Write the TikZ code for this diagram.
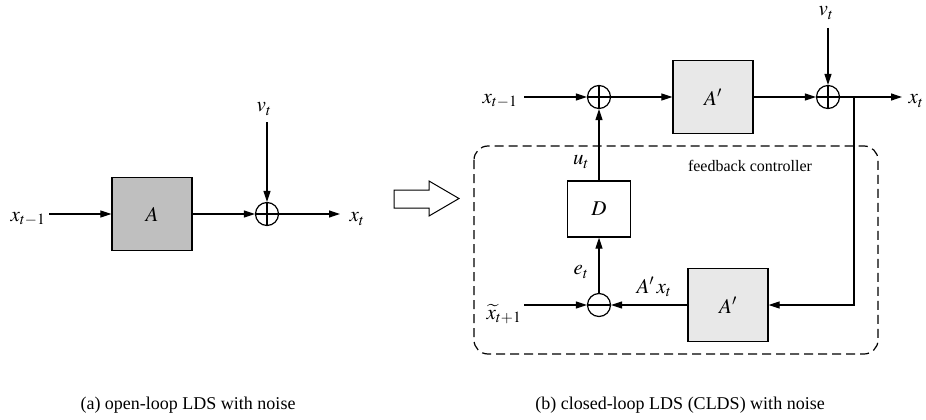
\documentclass[tikz,border=0pt]{standalone}
\usepackage{mathptmx}
\usepackage{fontspec}
\setmainfont{Liberation Serif}
\usetikzlibrary{arrows.meta}

\begin{document}
\begin{tikzpicture}[x=1pt,y=-1pt,block/.style={draw,line width=1.3pt,minimum width=80pt,minimum height=73pt,inner sep=0pt,font=\fontsize{21}{25}\selectfont},sumnode/.style={draw,circle,line width=1.2pt,minimum size=23pt,inner sep=0pt,path picture={\draw[line width=1.2pt] (path picture bounding box.north) -- (path picture bounding box.south) (path picture bounding box.west) -- (path picture bounding box.east);}},diffnode/.style={draw,circle,line width=1.2pt,minimum size=23pt,inner sep=0pt,path picture={\draw[line width=1.2pt] (path picture bounding box.west) -- (path picture bounding box.east);}},lbl/.style={inner sep=0pt,font=\fontsize{21}{25}\selectfont},arrow/.style={-{Triangle[length=11pt,width=7pt]},line width=1.2pt}]
\useasboundingbox (0,0) rectangle (926,420);
% (a) open loop
\node[block,fill=gray!50] (boxA) at (152,214) {$A$};
\node[sumnode] (sumA) at (267,214) {};
\coordinate (inA) at (49,214);
\coordinate (outA) at (340,214);
\coordinate (noiseA) at (267,122);
\node[lbl] (xinA) at (28,219) {$x_{t-1}$};
\node[lbl] (xoutA) at (357,219) {$x_t$};
\node[lbl] (vA) at (264,109) {$v_t$};
\draw[arrow] (inA) -- (boxA);
\draw[arrow] (boxA) -- (sumA);
\draw[arrow] (noiseA) -- (sumA);
\draw[arrow] (sumA) -- (outA);
% hollow arrow
\draw[line width=1pt,fill=white] (394,190) -- (429,190) -- (429,181) -- (459,198.5) -- (429,216) -- (429,208) -- (394,208) -- cycle;
% (b) closed loop
\draw[dashed,dash pattern=on 9pt off 5pt,line width=1.2pt,rounded corners=14pt] (474,146) rectangle (878,354);
\node[font=\fontsize{16}{19}\selectfont] (fbtext) at (750,166) {feedback controller};
\node[sumnode] (sumB) at (599,97) {};
\node[block,fill=black!9] (boxB) at (713,97) {$A'$};
\node[sumnode] (sumC) at (828,97) {};
\node[block,fill=white,minimum width=63pt,minimum height=56pt] (boxD) at (599,209) {$D$};
\node[diffnode] (diffB) at (599,305) {};
\node[block,fill=black!9] (boxC) at (728,305) {$A'$};
\coordinate (inB) at (524,97);
\coordinate (noiseB) at (828,28);
\coordinate (outB) at (902,97);
\coordinate (split) at (854,97);
\coordinate (refB) at (524,305);
\node[lbl] (xinB) at (500,101) {$x_{t-1}$};
\node[lbl] (vB) at (826,13) {$v_t$};
\node[lbl] (xoutB) at (916,101) {$x_t$};
\node[lbl] (uB) at (581,162) {$u_t$};
\node[lbl] (eB) at (581,272) {$e_t$};
\node[lbl] (axB) at (654,287) {$A'\,x_t$};
\node[lbl] (xrefB) at (504,314) {$\widetilde{x}_{t+1}$};
\draw[arrow] (inB) -- (sumB);
\draw[arrow] (sumB) -- (boxB);
\draw[arrow] (boxB) -- (sumC);
\draw[arrow] (noiseB) -- (sumC);
\draw[arrow] (sumC) -- (outB);
\draw[arrow] (split) |- (boxC);
\draw[arrow] (boxC) -- (diffB);
\draw[arrow] (refB) -- (diffB);
\draw[arrow] (diffB) -- (boxD);
\draw[arrow] (boxD) -- (sumB);
% captions
\node[font=\fontsize{18}{21}\selectfont] (capA) at (188,405) {(a) open-loop LDS with noise};
\node[font=\fontsize{18}{21}\selectfont] (capB) at (680,405) {(b) closed-loop LDS (CLDS) with noise};
\end{tikzpicture}
\end{document}
